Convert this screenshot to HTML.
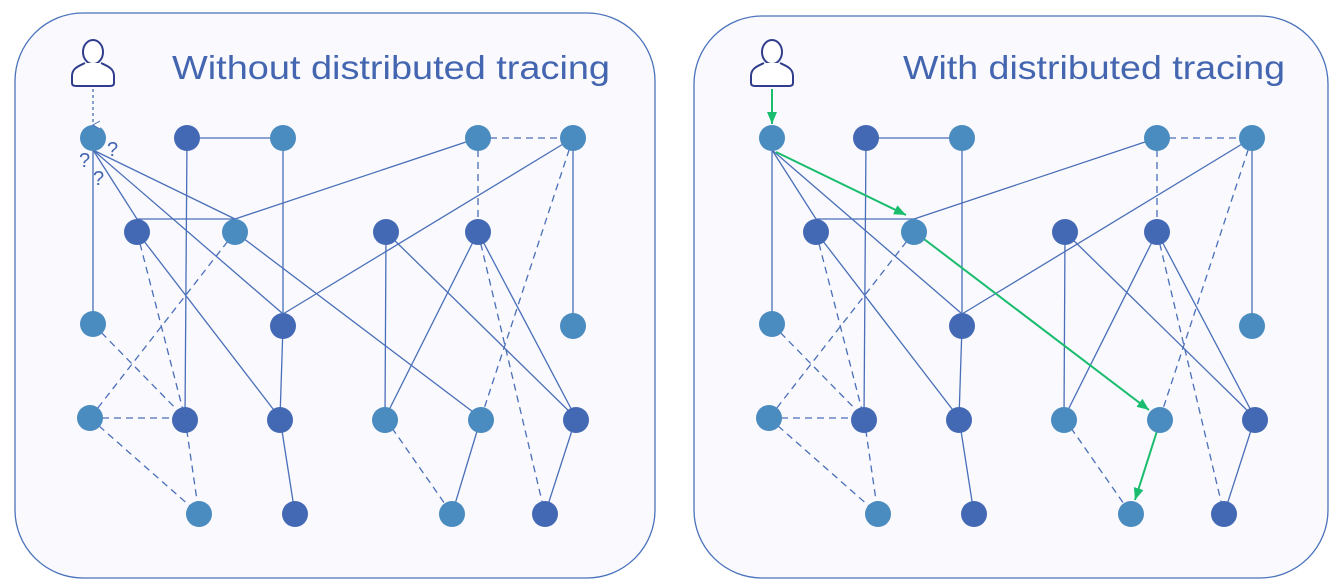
<!DOCTYPE html>
<html><head><meta charset="utf-8"><style>
html,body{margin:0;padding:0;background:#fff;}
svg{display:block}
text{font-family:"Liberation Sans",sans-serif;}
</style></head><body>
<svg width="1342" height="588" viewBox="0 0 1342 588" xmlns="http://www.w3.org/2000/svg">
<defs>
<marker id="open" markerWidth="10" markerHeight="10" refX="5" refY="8" orient="auto" markerUnits="userSpaceOnUse">
<path d="M1,1 L5,8 L9,1" fill="#fff" stroke="#4a6fb8" stroke-width="1"/>
</marker>
<marker id="grn" markerWidth="14" markerHeight="12" refX="12" refY="6" orient="auto" markerUnits="userSpaceOnUse">
<path d="M0,1 L12,6 L0,11 Z" fill="#19bd6d"/>
</marker>
<g id="graph">
<g stroke="#4a6fb8" stroke-width="1.3" fill="none">
<line x1="93" y1="138" x2="93" y2="324"/>
<line x1="93" y1="150" x2="137" y2="219"/>
<line x1="93" y1="150" x2="282" y2="313"/>
<line x1="187" y1="138" x2="283" y2="138"/>
<line x1="187" y1="138" x2="185" y2="418"/>
<line x1="283" y1="138" x2="283" y2="326"/>
<line x1="478" y1="138" x2="235" y2="219"/>
<line x1="137" y1="219" x2="235" y2="219"/>
<line x1="573" y1="138" x2="283" y2="314"/>
<line x1="573" y1="138" x2="573" y2="326"/>
<line x1="137" y1="232" x2="280" y2="418"/>
<line x1="386" y1="232" x2="385" y2="418"/>
<line x1="386" y1="232" x2="576" y2="418"/>
<line x1="478" y1="232" x2="385" y2="418"/>
<line x1="478" y1="232" x2="576" y2="418"/>
<line x1="283" y1="326" x2="280" y2="418"/>
<line x1="280" y1="418" x2="295" y2="514"/>
<line x1="576" y1="418" x2="545" y2="514"/>
</g>
<g stroke="#4a6fb8" stroke-width="1.3" fill="none" stroke-dasharray="7,5">
<line x1="478" y1="138" x2="573" y2="138"/>
<line x1="478" y1="138" x2="478" y2="232"/>
<line x1="573" y1="138" x2="481" y2="418"/>
<line x1="137" y1="232" x2="185" y2="418"/>
<line x1="235" y1="232" x2="90" y2="418"/>
<line x1="478" y1="232" x2="545" y2="514"/>
<line x1="93" y1="324" x2="185" y2="418"/>
<line x1="90" y1="418" x2="185" y2="418"/>
<line x1="90" y1="418" x2="199" y2="514"/>
<line x1="185" y1="418" x2="199" y2="514"/>
<line x1="385" y1="418" x2="452" y2="514"/>
</g>
</g>
<g id="nodes">
<g fill="#4a8bc0">
<circle cx="93" cy="138" r="13"/><circle cx="283" cy="138" r="13"/><circle cx="478" cy="138" r="13"/><circle cx="573" cy="138" r="13"/>
<circle cx="235" cy="232" r="13"/><circle cx="93" cy="324" r="13"/><circle cx="573" cy="326" r="13"/>
<circle cx="90" cy="418" r="13"/><circle cx="385" cy="420" r="13"/><circle cx="481" cy="420" r="13"/>
<circle cx="199" cy="514" r="13"/><circle cx="452" cy="514" r="13"/>
</g>
<g fill="#4469b4">
<circle cx="187" cy="138" r="13"/><circle cx="137" cy="232" r="13"/><circle cx="386" cy="232" r="13"/><circle cx="478" cy="232" r="13"/>
<circle cx="283" cy="326" r="13"/><circle cx="185" cy="420" r="13"/><circle cx="280" cy="420" r="13"/><circle cx="576" cy="420" r="13"/>
<circle cx="295" cy="514" r="13"/><circle cx="545" cy="514" r="13"/>
</g>
<g fill="#fff" stroke="#2f3d8c" stroke-width="2">
<ellipse cx="93" cy="52" rx="10" ry="12"/>
<path d="M85,63 C79,66 72,68 72,76 L72,83 Q72,86 76,86 L110,86 Q114,86 114,83 L114,76 C114,68 107,66 101,63"/>
</g>
</g>
</defs>
<rect x="15" y="13" width="640" height="565" rx="68" fill="#f9f9fe" stroke="#4a72bb" stroke-width="1.3"/>
<rect x="694" y="16" width="634" height="562" rx="68" fill="#f9f9fe" stroke="#4a72bb" stroke-width="1.3"/>
<use href="#graph"/>
<g stroke="#4a6fb8" stroke-width="1.3">
<line x1="93" y1="150" x2="235" y2="219"/>
<line x1="235" y1="232" x2="481" y2="418"/>
<line x1="481" y1="418" x2="452" y2="514"/>
</g>
<use href="#nodes"/>
<use href="#graph" transform="translate(679,0)"/>
<g stroke="#19bd6d" stroke-width="2" fill="none" marker-end="url(#grn)">
<line x1="772" y1="89" x2="772" y2="124"/>
<line x1="776" y1="152" x2="906" y2="215"/>
<line x1="920" y1="236" x2="1149" y2="410"/>
<line x1="1157" y1="431" x2="1135" y2="500"/>
</g>
<use href="#nodes" transform="translate(679,0)"/>
<line x1="93" y1="89" x2="93" y2="125" stroke="#4a6fb8" stroke-width="1.3" stroke-dasharray="3,3" marker-end="url(#open)"/>
<g fill="#4466b0" font-size="20">
<text x="107" y="156">?</text><text x="79" y="167">?</text><text x="93" y="185">?</text>
</g>
<text x="172" y="79" font-size="33" fill="#4466b0" textLength="438" lengthAdjust="spacingAndGlyphs">Without distributed tracing</text>
<text x="903" y="79" font-size="33" fill="#4466b0" textLength="382" lengthAdjust="spacingAndGlyphs">With distributed tracing</text>
</svg>
</body></html>
